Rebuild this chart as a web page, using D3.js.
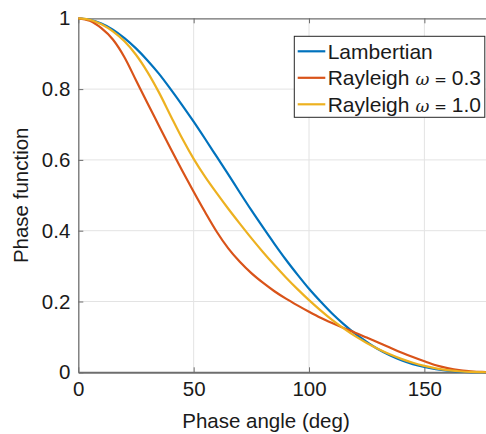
<!DOCTYPE html>
<html>
<head>
<meta charset="utf-8">
<script src="https://cdn.jsdelivr.net/npm/d3@7"></script>
<style>
  body { margin: 0; background: #fff; }
  svg { display: block; font-family: "Liberation Sans", Arial, sans-serif; }
</style>
</head>
<body>
<svg width="486" height="434"></svg>
<script>
var width = 486;
var height = 434;

// phase angle samples (deg), every 5 degrees
var angles = [0, 5, 10, 15, 20, 25, 30, 35, 40, 45, 50, 55, 60, 65, 70, 75, 80, 85, 90,
              95, 100, 105, 110, 115, 120, 125, 130, 135, 140, 145, 150, 155, 160, 165, 170, 175, 180];
// values
var lambertian = [1, 0.996, 0.985, 0.968, 0.944, 0.915, 0.881, 0.843, 0.800, 0.755, 0.708, 0.659, 0.609, 0.559, 0.508, 0.458, 0.410, 0.363, 0.318,
                  0.276, 0.236, 0.200, 0.166, 0.136, 0.109, 0.086, 0.065, 0.048, 0.034, 0.023, 0.015, 0.0087, 0.0045, 0.0019, 0.0005, 0.0001, 0];
var rayleigh03 = [1, 0.993, 0.972, 0.940, 0.890, 0.825, 0.760, 0.696, 0.632, 0.570, 0.510, 0.452, 0.397, 0.350, 0.312, 0.280, 0.253, 0.229, 0.208,
                  0.189, 0.171, 0.154, 0.139, 0.125, 0.112, 0.098, 0.084, 0.070, 0.056, 0.043, 0.031, 0.020, 0.012, 0.006, 0.003, 0.001, 0];
var rayleigh10 = [1, 0.996, 0.983, 0.963, 0.935, 0.897, 0.848, 0.790, 0.725, 0.661, 0.603, 0.552, 0.506, 0.462, 0.420, 0.379, 0.340, 0.303, 0.268,
                  0.235, 0.204, 0.175, 0.148, 0.124, 0.102, 0.083, 0.066, 0.051, 0.038, 0.027, 0.018, 0.011, 0.006, 0.003, 0.001, 0.0003, 0];

var xTicks = [0, 50, 100, 150];
var yTicks = [0, 0.2, 0.4, 0.6, 0.8, 1];

var seriesNames = ["Lambertian", "Rayleigh", "Rayleigh"];
var seriesOmega = [null, "0.3", "1.0"];
var seriesColors = ["#0072BD", "#D95319", "#EDB120"];
var seriesValues = [lambertian, rayleigh03, rayleigh10];

var plotLeft = 78.3, plotRight = 493.6, plotTop = 18.3, plotBottom = 372.3;

var x = d3.scaleLinear().domain([0, 180]).range([plotLeft, plotRight]);
var y = d3.scaleLinear().domain([0, 1]).range([plotBottom, plotTop]);

var chart = d3.select("svg");

// grid
chart.append("g")
    .selectAll("line")
    .data(xTicks.slice(1))
    .enter()
    .append("line")
    .attr("x1", function(d) { return x(d); })
    .attr("x2", function(d) { return x(d); })
    .attr("y1", plotTop)
    .attr("y2", plotBottom)
    .attr("stroke", "#e3e3e3")
    .attr("stroke-width", 1);
chart.append("g")
    .selectAll("line")
    .data(yTicks.slice(1, -1))
    .enter()
    .append("line")
    .attr("x1", plotLeft)
    .attr("x2", width)
    .attr("y1", function(d) { return y(d); })
    .attr("y2", function(d) { return y(d); })
    .attr("stroke", "#e3e3e3")
    .attr("stroke-width", 1);

// axes
var xAxis = d3.axisBottom(x).tickValues(xTicks).tickSizeInner(-5).tickSizeOuter(0).tickPadding(9);
var yAxis = d3.axisLeft(y).tickValues(yTicks).tickSizeInner(-5).tickSizeOuter(0).tickPadding(8)
    .tickFormat(function(d) { return d3.format("~g")(d); });

var gx = chart.append("g")
    .attr("transform", "translate(0," + plotBottom + ")")
    .call(xAxis);
var gy = chart.append("g")
    .attr("transform", "translate(" + plotLeft + ",0)")
    .call(yAxis);

// top box line with ticks
var xTop = d3.axisTop(x).tickValues(xTicks).tickSizeInner(-5).tickSizeOuter(0).tickFormat("");
var gt = chart.append("g")
    .attr("transform", "translate(0," + plotTop + ")")
    .call(xTop);

[gx, gy, gt].forEach(function(g) {
    g.select(".domain").attr("stroke", "#6e6e6e").attr("stroke-width", 1.3);
    g.selectAll(".tick line").attr("stroke", "#6e6e6e").attr("stroke-width", 1);
    g.selectAll(".tick text")
        .attr("fill", "#1a1a1a")
        .style("font-family", "'Liberation Sans', Arial, sans-serif")
        .style("font-size", "20.5px");
});
gx.select(".domain").attr("stroke-width", 2);

// curves
var line = d3.line()
    .x(function(d, i) { return x(angles[i]); })
    .y(function(d) { return y(d); })
    .curve(d3.curveMonotoneX);

chart.append("g")
    .selectAll("path")
    .data(seriesValues)
    .enter()
    .append("path")
    .attr("d", function(d) { return line(d); })
    .attr("fill", "none")
    .attr("stroke", function(d, i) { return seriesColors[i]; })
    .attr("stroke-width", 2.2);

// axis labels
chart.append("text")
    .attr("x", 266)
    .attr("y", 428)
    .attr("text-anchor", "middle")
    .attr("fill", "#1a1a1a")
    .style("font-size", "20.5px")
    .text("Phase angle (deg)");
chart.append("text")
    .attr("transform", "translate(28," + ((plotTop + plotBottom) / 2) + ") rotate(-90)")
    .attr("text-anchor", "middle")
    .attr("fill", "#1a1a1a")
    .style("font-size", "20.5px")
    .text("Phase function");

// legend
var legend = chart.append("g");
legend.append("rect")
    .attr("x", 294.3)
    .attr("y", 36.3)
    .attr("width", 190.5)
    .attr("height", 81)
    .attr("fill", "#fff")
    .attr("stroke", "#262626")
    .attr("stroke-width", 1);

var rowY = [51.3, 77.8, 104.3];
seriesNames.forEach(function(name, i) {
    legend.append("line")
        .attr("x1", 297.7)
        .attr("x2", 325.3)
        .attr("y1", rowY[i])
        .attr("y2", rowY[i])
        .attr("stroke", seriesColors[i])
        .attr("stroke-width", 2.2);
    var t = legend.append("text")
        .attr("x", 327.7)
        .attr("y", rowY[i] + 7.5)
        .attr("fill", "#1a1a1a")
        .style("font-size", "21px")
        .text(name);
    if (seriesOmega[i]) {
        t.append("tspan")
            .attr("dx", 6)
            .style("font-family", "'DejaVu Serif', serif")
            .style("font-style", "italic")
            .style("font-size", "17px")
            .text("ω");
        t.append("tspan")
            .attr("dx", 5)
            .style("font-family", "'DejaVu Serif', serif")
            .style("font-size", "15px")
            .text("=");
        t.append("tspan").attr("dx", 5).text(seriesOmega[i]);
    }
});
</script>
</body>
</html>
